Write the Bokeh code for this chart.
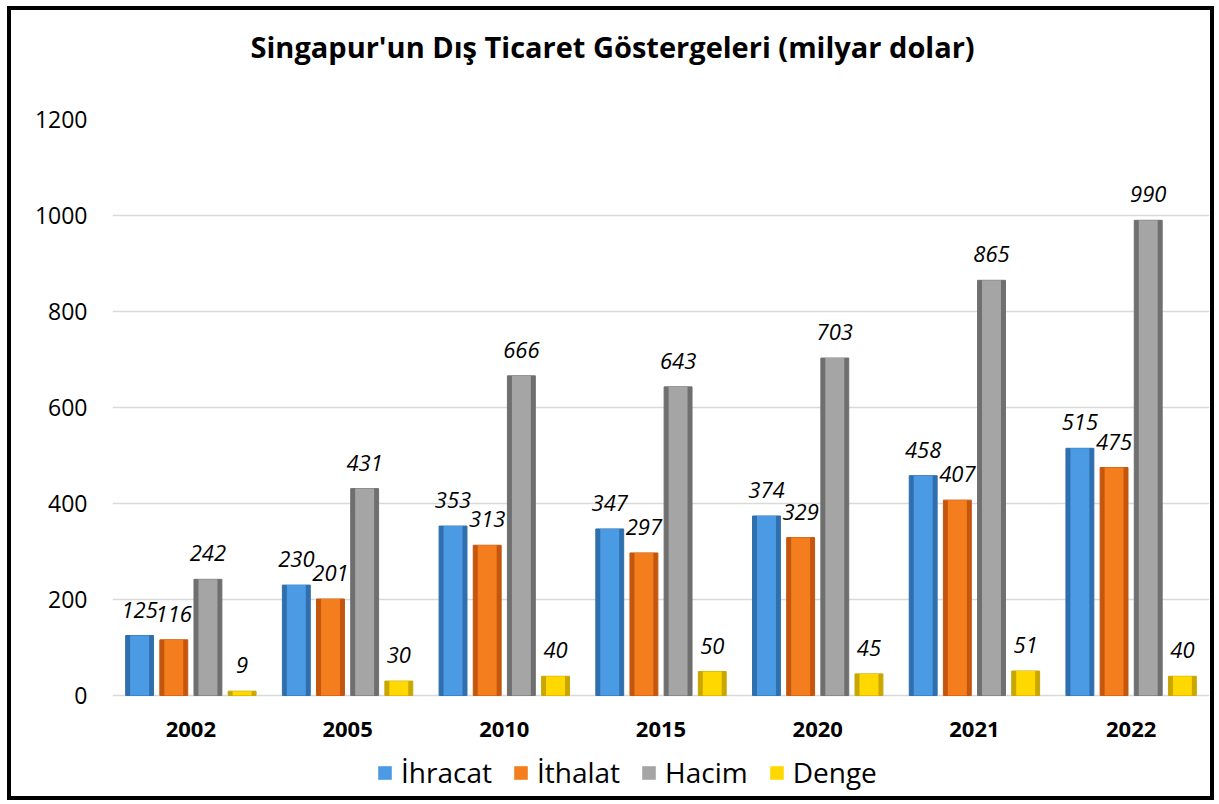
from bokeh.plotting import figure
from bokeh.models import ColumnDataSource, FactorRange, Range1d, FixedTicker, Legend, LegendItem, LabelSet, Title
from bokeh.transform import dodge
from bokeh.core.properties import value
from bokeh.embed import file_html
from bokeh.resources import INLINE

years = ["2002", "2005", "2010", "2015", "2020", "2021", "2022"]
ihracat = [125, 230, 353, 347, 374, 458, 515]
ithalat = [116, 201, 313, 297, 329, 407, 475]
hacim = [242, 431, 666, 643, 703, 865, 990]
denge = [9, 30, 40, 50, 45, 51, 40]
series_names = ["İhracat", "İthalat", "Hacim", "Denge"]
y_ticks = [0, 200, 400, 600, 800, 1000, 1200]
title_text = "Singapur'un Dış Ticaret Göstergeleri  (milyar dolar)"

FONT = "Open Sans"

# vertical scale: 576 px for 0..1200; frame extends 98 px below zero for the category labels + legend
PX_PER_UNIT = 576 / 1200
EXTRA_PX = 98

src = ColumnDataSource(dict(
    year=years, ihracat=ihracat, ithalat=ithalat, hacim=hacim, denge=denge,
    zero=[0] * len(years),
    ihracat_l=[str(v) for v in ihracat], ithalat_l=[str(v) for v in ithalat],
    hacim_l=[str(v) for v in hacim], denge_l=[str(v) for v in denge],
))

p = figure(
    x_range=FactorRange(*years, range_padding=0),
    y_range=Range1d(-EXTRA_PX / PX_PER_UNIT, 1200),
    frame_width=1097, frame_height=576 + EXTRA_PX,
    output_backend="svg", toolbar_location=None,
    min_border_left=101, min_border_right=1, min_border_top=109, min_border_bottom=3,
    title=title_text,
    styles={"border": "4px solid black", "margin-left": "7px", "margin-top": "6px"},
)
p.title.align = "left"
p.title.offset = 138
p.title.text_font = FONT
p.title.text_font_size = "29px"
p.title.text_font_style = "bold"
p.title.text_color = "#000000"
p.add_layout(Title(text=" ", text_font_size="27px", text_font=FONT), "above")

p.outline_line_color = None
p.xaxis.visible = False
p.xgrid.grid_line_color = None
p.ygrid.grid_line_color = "#d9d9d9"
p.ygrid.grid_line_width = 1.5
p.yaxis.ticker = FixedTicker(ticks=y_ticks)
p.yaxis.axis_line_color = None
p.yaxis.major_tick_line_color = None
p.yaxis.minor_tick_line_color = None
p.yaxis.major_label_text_font = FONT
p.yaxis.major_label_text_font_size = "23px"
p.yaxis.major_label_text_color = "#000000"
p.yaxis.major_label_standoff = 19

# category labels under the zero line
cat_labels = LabelSet(x="year", y="zero", text="year", source=src,
                      text_align="center", text_baseline="middle", y_offset=-34,
                      text_font=value(FONT), text_font_size="22px",
                      text_font_style="bold", text_color="#000000")
p.add_layout(cat_labels)

keys = ["ihracat", "ithalat", "hacim", "denge"]
offsets = [-0.327, -0.109, 0.109, 0.327]
outer_cols = ["#2f6fae", "#c4560e", "#6f6f6f", "#c9a600"]
inner_cols = ["#4b9be4", "#f47d1e", "#a5a5a5", "#ffd800"]
bw = 0.178

items = []
for k, off, oc, ic, name in zip(keys, offsets, outer_cols, inner_cols, series_names):
    xd = dodge("year", off, range=p.x_range)
    p.vbar(x=xd, top=k, width=bw, bottom=0, source=src,
           fill_color=oc, line_color=oc, line_width=1)
    r = p.vbar(x=xd, top=k, width=bw * 0.68, bottom=0, source=src,
               fill_color=ic, line_color=oc, line_alpha=0.0)
    items.append(LegendItem(label=name, renderers=[r]))
    labels = LabelSet(x=xd, y=k, text=k + "_l", source=src,
                      text_align="center", text_baseline="alphabetic", y_offset=18,
                      text_font=value(FONT), text_font_size="22px",
                      text_font_style="italic", text_color="#000000")
    p.add_layout(labels)

legend = Legend(items=items, orientation="horizontal", location=(264, 2),
                label_text_font=FONT, label_text_font_size="28px",
                label_text_color="#000000",
                glyph_width=17, glyph_height=17, label_standoff=8, spacing=20,
                border_line_color=None, background_fill_alpha=0,
                padding=0, margin=0)
p.add_layout(legend)

open("out.html", "w").write(file_html(p, INLINE))
